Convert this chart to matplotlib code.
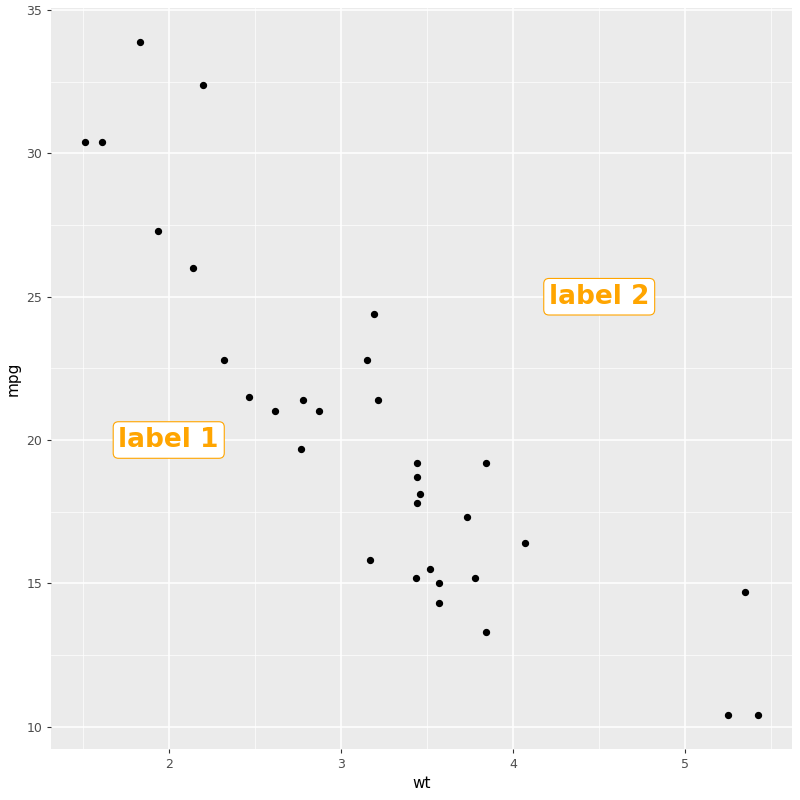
import matplotlib.pyplot as plt

wt = [2.620, 2.875, 2.320, 3.215, 3.440, 3.460, 3.570, 3.190, 3.150, 3.440, 3.440,
      4.070, 3.730, 3.780, 5.250, 5.424, 5.345, 2.200, 1.615, 1.835, 2.465, 3.520,
      3.435, 3.840, 3.845, 1.935, 2.140, 1.513, 3.170, 2.770, 3.570, 2.780]
mpg = [21.0, 21.0, 22.8, 21.4, 18.7, 18.1, 14.3, 24.4, 22.8, 19.2, 17.8,
       16.4, 17.3, 15.2, 10.4, 10.4, 14.7, 32.4, 30.4, 33.9, 21.5, 15.5,
       15.2, 13.3, 19.2, 27.3, 26.0, 30.4, 15.8, 19.7, 15.0, 21.4]
label_x = [2, 4.5]
label_y = [20, 25]
label_text = ["label 1", "label 2"]

fig = plt.figure(figsize=(8, 8), dpi=100)
ax = fig.add_axes([0.064, 0.064, 0.926, 0.926])
ax.set_facecolor("#EBEBEB")
ax.scatter(wt, mpg, s=18, color="black", zorder=3)

for x, y, t in zip(label_x, label_y, label_text):
    ax.text(x, y, t, ha="center", va="center", fontsize=19, fontweight="bold",
            color="#FFA500", zorder=4,
            bbox=dict(boxstyle="round,pad=0.2,rounding_size=0.2", fc="white",
                      ec="#FFA500", lw=0.8))

xr = max(wt) - min(wt)
yr = max(mpg) - min(mpg)
ax.set_xlim(min(wt) - 0.05 * xr, max(wt) + 0.05 * xr)
ax.set_ylim(min(mpg) - 0.05 * yr, max(mpg) + 0.05 * yr)
ax.set_xticks([2, 3, 4, 5])
ax.set_yticks([10, 15, 20, 25, 30, 35])
ax.set_xticks([1.5, 2.5, 3.5, 4.5, 5.5], minor=True)
ax.set_yticks([12.5, 17.5, 22.5, 27.5, 32.5], minor=True)
ax.grid(True, which="major", color="white", lw=1.1, zorder=0)
ax.grid(True, which="minor", color="white", lw=0.5, zorder=0)
ax.set_axisbelow(True)
for s in ax.spines.values():
    s.set_visible(False)
ax.tick_params(which="major", length=3, color="#333333", labelsize=9, labelcolor="#4D4D4D")
ax.tick_params(which="minor", length=0)
ax.set_xlabel("wt", fontsize=11)
ax.set_ylabel("mpg", fontsize=11)
fig.savefig("out.png")
